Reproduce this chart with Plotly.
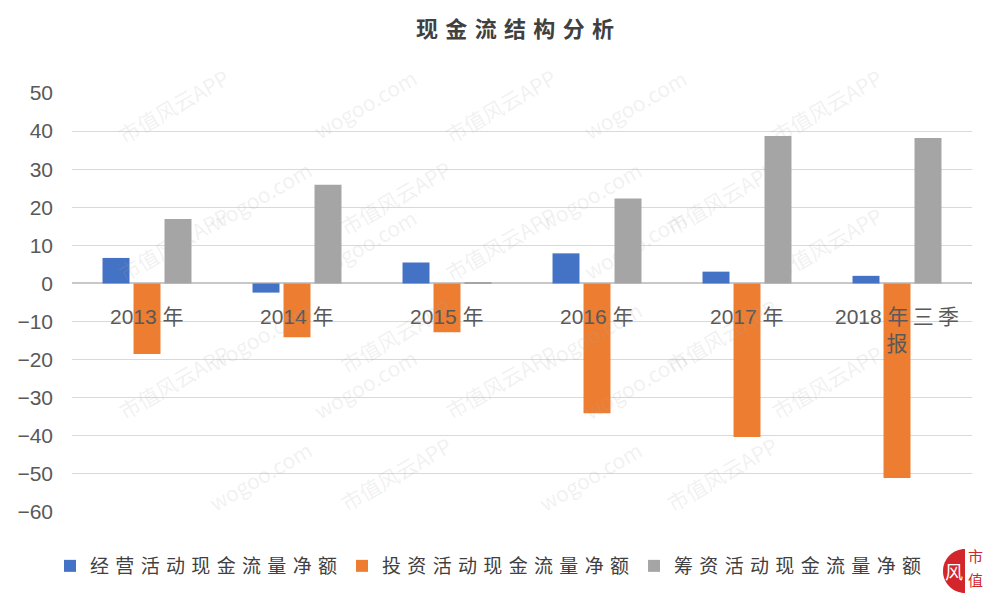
import math
import plotly.graph_objects as go

# ---- data ----
categories = ["2013年", "2014年", "2015年", "2016年", "2017年", "2018年三季报"]
cat_labels = ["2013 年", "2014 年", "2015 年", "2016 年", "2017 年", "2018 年\u2009三\u2009季<br>报"]
operating = [6.7, -2.4, 5.5, 7.9, 3.1, 2.0]
investing = [-18.5, -14.1, -12.8, -34.1, -40.3, -51.1]
financing = [16.9, 25.9, 0.3, 22.3, 38.7, 38.2]
series_names = ["经营活动现金流量净额", "投资活动现金流量净额", "筹资活动现金流量净额"]
y_ticks = [-60, -50, -40, -30, -20, -10, 0, 10, 20, 30, 40, 50]
title_text = "现金流结构分析"

colors = ["#4472C4", "#ED7D31", "#A5A5A5"]
CJK = "Noto Sans CJK SC"

# plot area in pixels
L, R, T, B = 72, 972, 93, 512


def spaced(s, sep="\u2004"):
    return sep.join(list(s))


def paper(xp, yp):
    return ((xp - L) / (R - L), (B - yp) / (B - T))


fig = go.Figure()
for name, vals, c in zip(series_names, [operating, investing, financing], colors):
    fig.add_trace(go.Bar(x=categories, y=vals, name=spaced(name), marker_color=c,
                         marker_line_width=0))

annotations = []
for cat, lab in zip(categories, cat_labels):
    annotations.append(dict(x=cat, y=0, xref="x", yref="y", text=lab, showarrow=False,
                            yanchor="top", yshift=-20,
                            font=dict(family="Liberation Sans, " + CJK, size=21, color="#595959")))

# faint watermark (kept inside the canvas)
wm_texts = ["市值风云APP", "wogoo.com"]
for row in range(0, 6):
    for col in range(0, 5):
        xp = 110 + col * 195 + (row % 2) * 90
        yp = 60 + row * 92
        if xp > 920 or yp > 540:
            continue
        x, y = paper(xp, yp)
        annotations.append(dict(x=x, y=y, xref="paper", yref="paper",
                                text=wm_texts[(row + col) % 2], showarrow=False, textangle=-30,
                                font=dict(family=CJK, size=21, color="rgba(170,170,170,0.17)")))

# logo
for ch, yp in [("市", 555), ("值", 579)]:
    x, y = paper(975, yp)
    annotations.append(dict(x=x, y=y, xref="paper", yref="paper", xanchor="center",
                            yanchor="middle", text=ch, showarrow=False, borderpad=0,
                            font=dict(family=CJK, size=15, color="#d2262c")))
fx, fy = paper(954, 571)
annotations.append(dict(x=fx, y=fy, xref="paper", yref="paper", xanchor="center",
                        yanchor="middle", text="风", showarrow=False, borderpad=0,
                        font=dict(family=CJK, size=18, color="white")))

pts = []
cx, cy, r = 965, 571, 22
for i in range(0, 33):
    a = math.pi / 2 + math.pi * i / 32
    pts.append(paper(cx + r * math.cos(a), cy - r * math.sin(a)))
path = "M " + " L ".join(f"{x:.4f} {y:.4f}" for x, y in pts) + " Z"

fig.update_layout(
    width=999, height=599,
    margin=dict(l=L, r=999 - R, t=T, b=599 - B),
    paper_bgcolor="white", plot_bgcolor="white",
    title=dict(text="<b>" + spaced(title_text, "\u2004") + "</b>", x=515 / 999, xanchor="center",
               y=1 - 29 / 599, yanchor="middle", yref="container", xref="container",
               font=dict(family=CJK, size=22, color="#404040")),
    barmode="group", bargap=0.38, bargroupgap=0.13,
    showlegend=True,
    legend=dict(orientation="h", xref="container", yref="container",
                x=50 / 999, xanchor="left", y=1 - 566 / 599, yanchor="middle",
                font=dict(family=CJK, size=19, color="#404040"),
                traceorder="normal"),
    annotations=annotations,
    shapes=[dict(type="path", xref="paper", yref="paper", path=path,
                 fillcolor="#d2262c", line_width=0, layer="below")],
    xaxis=dict(showticklabels=False, showgrid=False, showline=False, ticks="",
               fixedrange=True),
    yaxis=dict(range=[-60, 50], tickvals=y_ticks, showgrid=True, gridcolor="#d9d9d9",
               gridwidth=1, zeroline=True, zerolinecolor="#c8c8c8", zerolinewidth=2,
               showline=False, ticks="", ticklabelstandoff=18,
               tickfont=dict(family="Liberation Sans, Arial", size=21, color="#595959")),
)

fig.write_html("out.html")
